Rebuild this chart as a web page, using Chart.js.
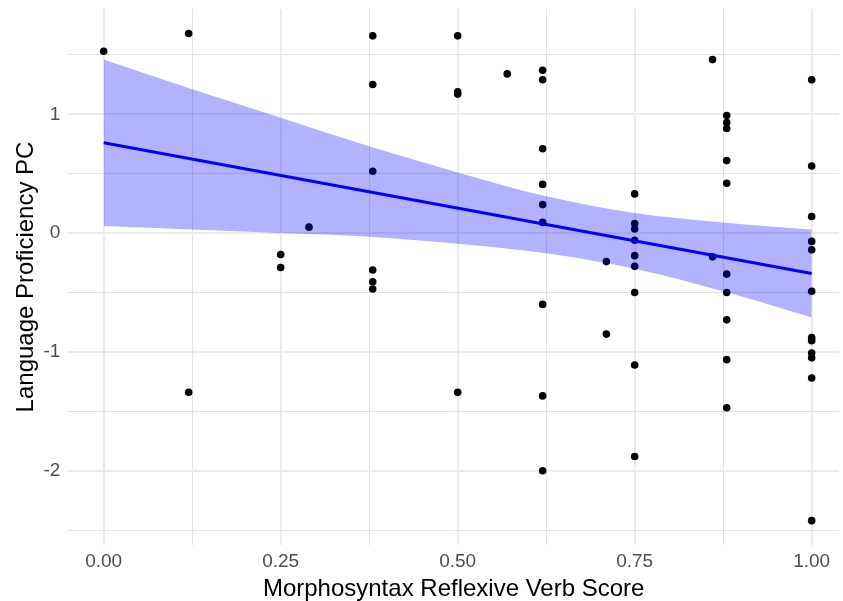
<!DOCTYPE html>
<html>
<head>
<meta charset="utf-8">
<script src="https://cdn.jsdelivr.net/npm/chart.js@4.4.1/dist/chart.umd.min.js"></script>
<style>
html, body { margin: 0; padding: 0; background: #fff; }
#wrap { width: 843px; height: 601px; }
</style>
</head>
<body>
<div id="wrap"><canvas id="chart" width="843" height="601"></canvas></div>
<script>
/* Reflexive verb score vs proficiency, with lm fit and 95% band */
const scoreX = [
    0.00,
    0.12, 0.12,
    0.25, 0.25,
    0.29,
    0.38, 0.38, 0.38, 0.38, 0.38, 0.38,
    0.50, 0.50, 0.50, 0.50,
    0.57,
    0.62, 0.62, 0.62, 0.62, 0.62, 0.62, 0.62, 0.62, 0.62,
    0.71, 0.71,
    0.75, 0.75, 0.75, 0.75, 0.75, 0.75, 0.75, 0.75, 0.75,
    0.86, 0.86,
    0.88, 0.88, 0.88, 0.88, 0.88, 0.88, 0.88, 0.88, 0.88, 0.88,
    1.00, 1.00, 1.00, 1.00, 1.00, 1.00, 1.00, 1.00, 1.00, 1.00, 1.00, 1.00
];
const proficiencyY = [
    1.53,
    1.68, -1.34,
    -0.18, -0.29,
    0.05,
    1.66, 1.25, 0.52, -0.31, -0.41, -0.47,
    1.66, 1.19, 1.17, -1.34,
    1.34,
    1.37, 1.29, 0.71, 0.41, 0.24, 0.09, -0.60, -1.37, -2.00,
    -0.24, -0.85,
    0.33, 0.08, 0.035, -0.06, -0.19, -0.28, -0.50, -1.11, -1.88,
    1.46, -0.20,
    0.99, 0.93, 0.88, 0.61, 0.42, -0.345, -0.50, -0.73, -1.065, -1.47,
    1.29, 0.565, 0.14, -0.07, -0.14, -0.49, -0.88, -0.905, -1.01, -1.05, -1.22, -2.42
];

// fitted line and confidence band
const fitX = [0, 1];
const fitY = [0.76, -0.34];
const bandX = [0, 0.125, 0.25, 0.375, 0.5, 0.625, 0.75, 0.875, 1];
const bandUpper = [1.46, 1.21, 0.97, 0.73, 0.51, 0.31, 0.17, 0.09, 0.03];
const bandLower = [0.06, 0.03, 0.00, -0.03, -0.09, -0.17, -0.30, -0.49, -0.71];

const xTickValues = [0, 0.125, 0.25, 0.375, 0.5, 0.625, 0.75, 0.875, 1];
const xTickLabels = ['0.00', '', '0.25', '', '0.50', '', '0.75', '', '1.00'];
const yTickValues = [-2.5, -2, -1.5, -1, -0.5, 0, 0.5, 1, 1.5];
const yTickLabels = ['', '-2', '', '-1', '', '0', '', '1', ''];

const FONT = "'Liberation Sans', Arial, Helvetica, sans-serif";

function zip(xs, ys) { return xs.map((x, i) => ({ x: x, y: ys[i] })); }

function gridOpts(values, labels) {
    const isMajor = v => labels[values.indexOf(v)] !== '';
    return {
        drawTicks: false,
        color: ctx => (ctx.tick && isMajor(ctx.tick.value)) ? '#EBEBEB' : '#E2E2E2',
        lineWidth: ctx => (ctx.tick && isMajor(ctx.tick.value)) ? 2 : 1
    };
}

new Chart(document.getElementById('chart'), {
    type: 'line',
    data: {
        datasets: [
            { label: 'points', data: zip(scoreX, proficiencyY), showLine: false, pointRadius: 3.8, pointBorderWidth: 0, pointBackgroundColor: '#000', order: 3 },
            { label: 'upper', data: zip(bandX, bandUpper), borderColor: 'transparent', pointRadius: 0, fill: '+1', backgroundColor: 'rgba(0,0,255,0.3)', cubicInterpolationMode: 'monotone', order: 2 },
            { label: 'lower', data: zip(bandX, bandLower), borderColor: 'transparent', pointRadius: 0, fill: false, cubicInterpolationMode: 'monotone', order: 2 },
            { label: 'fit', data: zip(fitX, fitY), borderColor: '#0000FF', borderWidth: 3, pointRadius: 0, fill: false, order: 1 }
        ]
    },
    options: {
        responsive: false, animation: false, devicePixelRatio: 1,
        layout: { padding: { top: 9, left: 0, right: 0, bottom: 0 } },
        plugins: { legend: { display: false }, tooltip: { enabled: false } },
        scales: {
            x: {
                type: 'linear', min: -0.05, max: 1.0386,
                afterBuildTicks: s => { s.ticks = xTickValues.map(v => ({ value: v })); },
                afterFit: s => { s.height = 56; s.paddingLeft = 0; s.paddingRight = 0; },
                grid: gridOpts(xTickValues, xTickLabels),
                border: { display: false },
                ticks: { autoSkip: false, maxRotation: 0, minRotation: 0, padding: 5, color: '#4D4D4D', font: { family: FONT, size: 19 }, callback: (v, i) => xTickLabels[i] },
                title: { display: true, text: 'Morphosyntax Reflexive Verb Score', color: '#000', font: { family: FONT, size: 24, lineHeight: 1 }, padding: { top: 0, bottom: 0 } }
            },
            y: {
                type: 'linear', min: -2.625, max: 1.886,
                afterBuildTicks: s => { s.ticks = yTickValues.map(v => ({ value: v })); },
                afterFit: s => { s.width = 68.3; s.paddingTop = 0; s.paddingBottom = 0; },
                grid: gridOpts(yTickValues, yTickLabels),
                border: { display: false },
                ticks: { autoSkip: false, padding: 8, color: '#4D4D4D', font: { family: FONT, size: 19 }, callback: (v, i) => yTickLabels[i] },
                title: { display: true, text: 'Language Proficiency PC', color: '#000', font: { family: FONT, size: 24, lineHeight: 1 }, padding: { top: 14, bottom: 0 } }
            }
        }
    }
});
</script>
</body>
</html>
